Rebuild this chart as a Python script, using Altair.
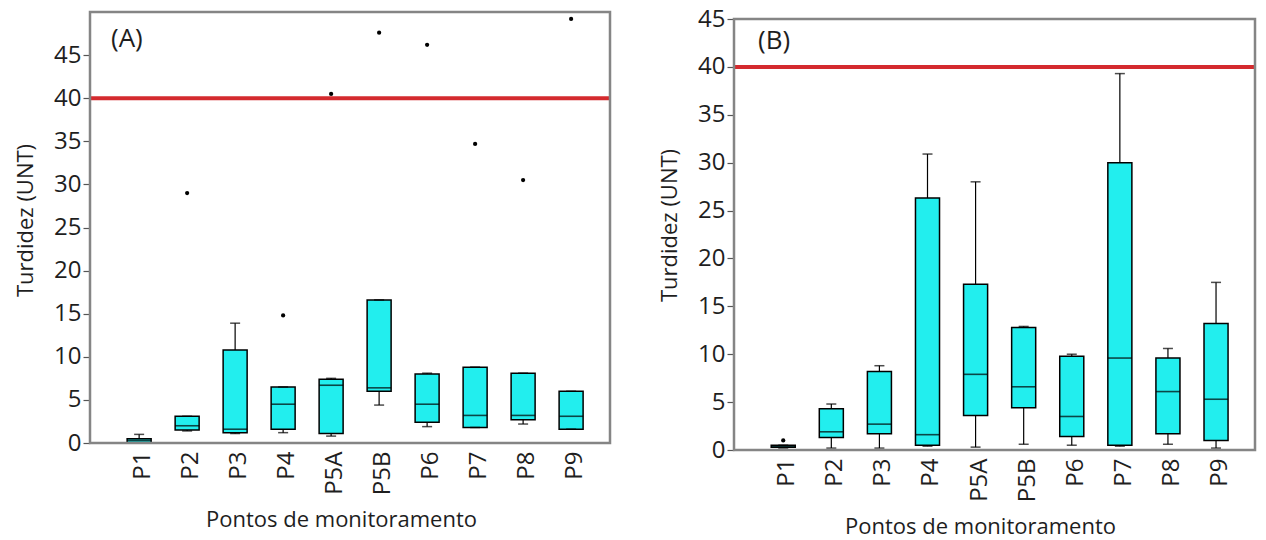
import altair as alt
import pandas as pd

categories = ["P1", "P2", "P3", "P4", "P5A", "P5B", "P6", "P7", "P8", "P9"]

# Panel A
a_lo = [0.0, 1.4, 1.1, 1.2, 0.8, 4.4, 1.9, 1.8, 2.2, 1.6]
a_q1 = [0.05, 1.5, 1.2, 1.6, 1.1, 6.0, 2.4, 1.8, 2.7, 1.6]
a_med = [0.3, 2.0, 1.6, 4.5, 6.7, 6.4, 4.5, 3.2, 3.2, 3.1]
a_q3 = [0.5, 3.1, 10.8, 6.5, 7.4, 16.6, 8.0, 8.8, 8.1, 6.0]
a_hi = [1.0, 3.1, 13.9, 6.5, 7.5, 16.6, 8.1, 8.8, 8.1, 6.0]
a_out_cat = ["P2", "P4", "P5A", "P5B", "P6", "P7", "P8", "P9"]
a_out_val = [29.0, 14.8, 40.5, 47.6, 46.2, 34.7, 30.5, 49.2]

# Panel B
b_lo = [0.2, 0.2, 0.2, 0.4, 0.3, 0.6, 0.5, 0.4, 0.6, 0.2]
b_q1 = [0.3, 1.3, 1.7, 0.5, 3.6, 4.4, 1.4, 0.5, 1.7, 1.0]
b_med = [0.4, 1.9, 2.7, 1.6, 7.9, 6.6, 3.5, 9.6, 6.1, 5.3]
b_q3 = [0.5, 4.3, 8.2, 26.3, 17.3, 12.8, 9.8, 30.0, 9.6, 13.2]
b_hi = [0.5, 4.8, 8.8, 30.9, 28.0, 12.9, 10.0, 39.3, 10.6, 17.5]
b_out_cat = ["P1"]
b_out_val = [1.0]

y_ticks = [0, 5, 10, 15, 20, 25, 30, 35, 40, 45]
limit = [40]

FONT = "Open Sans"
CYAN = "#22EEEE"
RED = "#D42A2E"
TXT = "#1E1E1E"
FRAME = "#858585"


def panel(lo, q1, med, q3, hi, out_cat, out_val, ymax, tag, tag_x, tag_y,
          width, height, top, title_y, title_x):
    df = pd.DataFrame({"cat": categories, "lo": lo, "q1": q1, "med": med, "q3": q3, "hi": hi})
    odf = pd.DataFrame({"cat": out_cat, "v": out_val})
    ldf = pd.DataFrame({"lim": limit})
    tdf = pd.DataFrame({"t": [tag]})

    xenc = alt.X(
        "cat:N",
        sort=categories,
        title="Pontos de monitoramento",
        scale=alt.Scale(paddingInner=0.5, paddingOuter=0.667, align=0.58),
        axis=alt.Axis(
            labelAngle=-90, ticks=False, tickSize=0, labelPadding=8, labelOffset=4,
            labelFontSize=24, titleFontSize=22, titlePadding=15, domain=False,
            labelColor=TXT, titleColor=TXT, labelFont=FONT, titleFont=FONT,
            titleFontWeight="normal", titleX=title_x,
        ),
    )
    yscale = alt.Scale(domain=[0, ymax], nice=False, zero=True, range=[height, top])
    yaxis = alt.Axis(
        values=y_ticks, tickSize=7, tickColor="#555555", tickWidth=1.2, labelPadding=2,
        labelFontSize=24, titleFontSize=22, titlePadding=16, domain=False, grid=False,
        labelColor=TXT, titleColor=TXT, labelFont=FONT, titleFont=FONT,
        titleFontWeight="normal", titleY=title_y,
    )

    def Y(f):
        return alt.Y(f"{f}:Q", scale=yscale, axis=yaxis, title="Turdidez (UNT)")

    base = alt.Chart(df)
    wl = base.mark_rule(color="black", strokeWidth=1.2).encode(x=xenc, y=Y("lo"), y2="q1")
    wh = base.mark_rule(color="black", strokeWidth=1.2).encode(x=xenc, y=Y("q3"), y2="hi")
    box = base.mark_bar(color=CYAN, stroke="black", strokeWidth=1.5).encode(x=xenc, y=Y("q1"), y2="q3")
    medm = base.mark_tick(color="black", size=24, thickness=1.6).encode(x=xenc, y=Y("med"))
    cap_lo = base.mark_tick(color="black", size=10, thickness=1.5).encode(x=xenc, y=Y("lo"))
    cap_hi = base.mark_tick(color="black", size=10, thickness=1.5).encode(x=xenc, y=Y("hi"))
    red = alt.Chart(ldf).mark_rule(color=RED, strokeWidth=4).encode(y=Y("lim"))
    outl = alt.Chart(odf).mark_circle(color="black", size=18, opacity=1).encode(x=xenc, y=Y("v"))
    txt = alt.Chart(tdf).mark_text(
        align="left", baseline="middle", fontSize=26, font=FONT, color=TXT
    ).encode(x=alt.value(tag_x), y=alt.value(top + tag_y), text="t:N")
    frame = alt.Chart(tdf).mark_rect(
        fill="transparent", stroke=FRAME, strokeWidth=2.5
    ).encode(x=alt.value(0), x2=alt.value(width), y=alt.value(top), y2=alt.value(height))

    return alt.layer(wl, wh, box, medm, cap_lo, cap_hi, red, outl, txt, frame).properties(
        width=width, height=height
    )


pa = panel(a_lo, a_q1, a_med, a_q3, a_hi, a_out_cat, a_out_val, 50, "(A)", 21, 27,
           520, 431, 0, 208, 251)
pb = panel(b_lo, b_q1, b_med, b_q3, b_hi, b_out_cat, b_out_val, 45, "(B)", 24, 22,
           521, 438, 7, 213, 246)

chart = (
    alt.hconcat(pa, pb, spacing=46)
    .properties(padding={"left": 14, "top": 7, "right": 5, "bottom": 5}, background="white")
    .configure_view(stroke="transparent", strokeWidth=0)
)

chart.save("out.html", embed_options={"renderer": "svg", "actions": False})
